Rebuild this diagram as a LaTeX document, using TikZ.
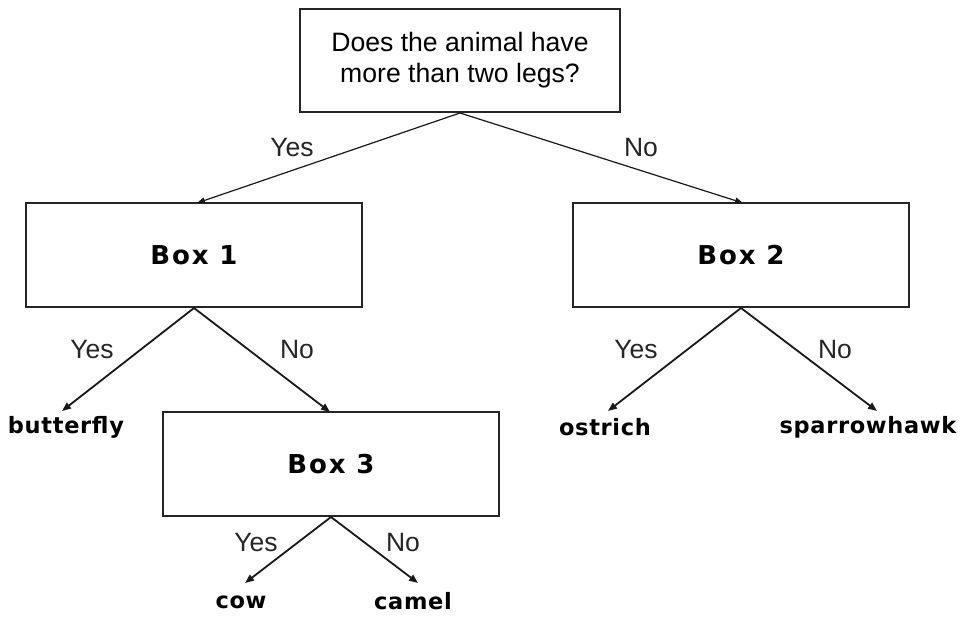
\documentclass[tikz,border=0pt]{standalone}
\usepackage{fontspec}
\setmainfont{Liberation Sans}
\newfontfamily\answerfont[LetterSpace=3]{DejaVu Sans Bold}
\newfontfamily\boxfont[LetterSpace=7]{DejaVu Sans Bold}
\usetikzlibrary{arrows.meta}
\begin{document}
\begin{tikzpicture}[x=1pt,y=-1pt,
  qbox/.style={draw=black!85,line width=2pt,minimum width=#1,inner sep=0pt},
  qbox/.default=336pt,
  boxlabel/.style={qbox,minimum height=104pt,font=\boxfont\fontsize{26}{30}\selectfont},
  answer/.style={font=\answerfont\fontsize{22.5}{26}\selectfont,inner sep=0pt},
  edgelabel/.style={font=\fontsize{26.5}{30}\selectfont,text=black!85},
  link/.style={line width=1.8pt,draw=black!90,-{Triangle[length=9pt,width=7pt]}},
  thinlink/.style={line width=1.2pt,draw=black!90,-{Triangle[length=8pt,width=6pt]}}]
  \useasboundingbox (0,0) rectangle (966,616);

  % question and decision boxes
  \node[qbox=320pt,minimum height=103pt,align=center,
        font=\fontsize{26.6}{31}\selectfont] (q) at (460,60.5)
        {Does the animal have\\more than two legs?};
  \node[boxlabel] (b1) at (194,255) {Box 1};
  \node[boxlabel] (b2) at (741,255) {Box 2};
  \node[boxlabel] (b3) at (331,464) {Box 3};

  % answers
  \node[answer] (butterfly) at (66,427) {butterfly};
  \node[answer] (ostrich) at (605,427) {ostrich};
  \node[answer] (sparrowhawk) at (868,427) {sparrowhawk};
  \node[answer] (cow) at (241,602) {cow};
  \node[answer] (camel) at (413,601) {camel};

  % arrow tips
  \coordinate (tq1) at (197,203);
  \coordinate (tq2) at (743,203);
  \coordinate (t11) at (62,411);
  \coordinate (t12) at (330,412);
  \coordinate (t21) at (608,411);
  \coordinate (t22) at (877,411);
  \coordinate (t31) at (245,583);
  \coordinate (t32) at (418,583);

  % connectors
  \draw[thinlink] (q.south) -- (tq1);
  \draw[thinlink] (q.south) -- (tq2);
  \draw[link] (b1.south) -- (t11);
  \draw[link] (b1.south) -- (t12);
  \draw[link] (b2.south) -- (t21);
  \draw[link] (b2.south) -- (t22);
  \draw[link] (b3.south) -- (t31);
  \draw[link] (b3.south) -- (t32);

  % branch labels
  \node[edgelabel] (lq1) at (292,148) {Yes};
  \node[edgelabel] (lq2) at (641,148) {No};
  \node[edgelabel] (l11) at (92,350) {Yes};
  \node[edgelabel] (l12) at (297,350) {No};
  \node[edgelabel] (l21) at (636,350) {Yes};
  \node[edgelabel] (l22) at (835,350) {No};
  \node[edgelabel] (l31) at (256,543) {Yes};
  \node[edgelabel] (l32) at (403,543) {No};
\end{tikzpicture}
\end{document}
